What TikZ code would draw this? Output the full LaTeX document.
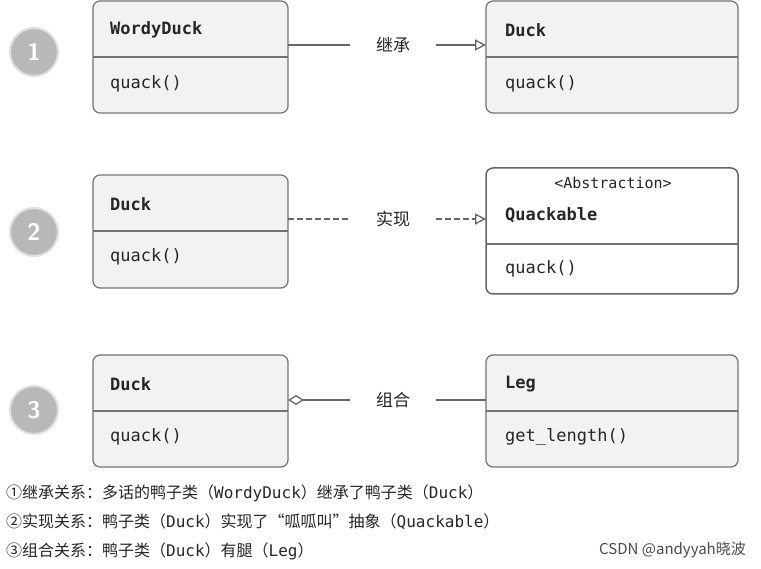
\documentclass[tikz,border=0pt]{standalone}
\usepackage{fontspec}
\setmonofont{DejaVu Sans Mono}
\newfontfamily\cjk{Noto Sans CJK SC}
\usetikzlibrary{arrows.meta}
\begin{document}
\begin{tikzpicture}[x=1pt,y=-1pt,
  box/.style={draw=black!55,line width=1.2pt,fill=black!5,rounded corners=7pt},
  abox/.style={draw=black!60,line width=1.5pt,fill=white,rounded corners=7pt},
  div/.style={draw=black!55,line width=1.2pt},
  ttl/.style={anchor=west,inner sep=0pt,font=\ttfamily\fontsize{17}{17}\selectfont\bfseries,text=black!85},
  mth/.style={anchor=west,inner sep=0pt,font=\ttfamily\fontsize{17}{17}\selectfont,text=black!85},
  lbl/.style={font=\cjk\fontsize{17}{17}\selectfont,text=black!85,minimum width=86pt,inner sep=0pt},
  con/.style={draw=black!60,line width=1.3pt},
  num/.style={circle,minimum size=48pt,fill=black!28,draw=black!12,line width=2pt,text=white,font=\sffamily\bfseries\fontsize{24}{24}\selectfont},
  note/.style={anchor=west,inner sep=0pt,font=\cjk\fontsize{16}{16}\selectfont,text=black!85}]
\useasboundingbox (0,0) rectangle (761,569);
\fill[white] (0,0) rectangle (761,569);
% circles
\node[num] (n1) at (34,52) {1};
\node[num] (n2) at (34,232) {2};
\node[num] (n3) at (34,410) {3};
% row 1
\draw[box] (93,1) rectangle (288,113); \draw[div] (93,57) -- (288,57);
\node[ttl] (wd) at (110,30) {WordyDuck};
\node[mth] (wdq) at (110,84) {quack()};
\draw[box] (486,1) rectangle (738,113); \draw[div] (486,57) -- (738,57);
\node[ttl] (d1) at (505,30) {Duck};
\node[mth] (d1q) at (505,84) {quack()};
\coordinate (a1) at (288,45); \coordinate (b1) at (486,45);
\node[lbl] (l1) at (393,45) {继承};
\draw[con] (a1) -- (l1.west);
\draw[con,-{Triangle[open,length=11pt,width=11pt]}] (l1.east) -- (b1);
% row 2
\draw[box] (93,175) rectangle (288,288); \draw[div] (93,231) -- (288,231);
\node[ttl] (d2) at (110,204) {Duck};
\node[mth] (d2q) at (110,257) {quack()};
\draw[abox] (486,168) rectangle (738,294); \draw[div] (486,244) -- (738,244);
\node[inner sep=0pt,font=\ttfamily\fontsize{15}{15}\selectfont,text=black!85] (ab) at (613,183) {<Abstraction>};
\node[ttl] (qk) at (505,215) {Quackable};
\node[mth] (qkq) at (505,269) {quack()};
\coordinate (a2) at (288,219); \coordinate (b2) at (486,219);
\node[lbl] (l2) at (393,219) {实现};
\draw[con,dash pattern=on 6pt off 3pt] (a2) -- (l2.west);
\draw[con,dash pattern=on 6pt off 3pt,-{Triangle[open,length=11pt,width=11pt]}] (l2.east) -- (b2);
% row 3
\draw[box] (93,355) rectangle (288,467); \draw[div] (93,411) -- (288,411);
\node[ttl] (d3) at (110,384) {Duck};
\node[mth] (d3q) at (110,437) {quack()};
\draw[box] (486,355) rectangle (738,467); \draw[div] (486,411) -- (738,411);
\node[ttl] (leg) at (505,384) {Leg};
\node[mth] (legq) at (505,437) {get\_length()};
\coordinate (a3) at (288,400); \coordinate (b3) at (486,400);
\node[lbl] (l3) at (393,400) {组合};
\draw[con,{Diamond[open,length=16pt,width=10pt]}-] (a3) -- (l3.west);
\draw[con] (l3.east) -- (b3);
% notes
\node[note] (t1) at (6,493) {①继承关系：多话的鸭子类（{\ttfamily WordyDuck}）继承了鸭子类（{\ttfamily Duck}）};
\node[note] (t2) at (6,522) {②实现关系：鸭子类（{\ttfamily Duck}）实现了“呱呱叫”抽象（{\ttfamily Quackable}）};
\node[note] (t3) at (6,551) {③组合关系：鸭子类（{\ttfamily Duck}）有腿（{\ttfamily Leg}）};
\node[anchor=east,inner sep=0pt,font=\cjk\fontsize{15}{15}\selectfont,text=black!70] (wm) at (746,550) {CSDN @andyyah晓波};
\end{tikzpicture}
\end{document}
